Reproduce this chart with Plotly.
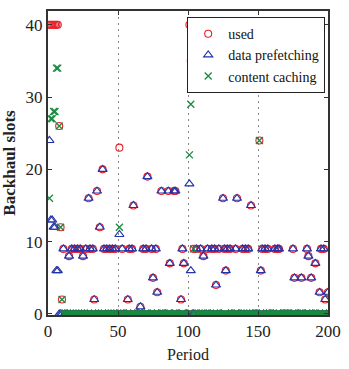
import plotly.graph_objects as go

periods = list(range(1, 201))

prefetch_t = [1, 2, 3, 4, 5, 6, 7, 11, 15, 17, 19, 21, 23, 25, 27, 29, 30, 32, 33, 35, 37, 39, 40, 42, 44, 46, 48,
              51, 53, 57, 58, 60, 61, 66, 68, 70, 71, 74, 75, 77, 78, 81, 86, 87, 90, 91, 95, 96, 97,
              101, 102, 106, 109, 111, 114, 117, 119, 120, 122, 125, 126, 127, 128, 130, 134, 135, 139, 141, 143, 145,
              152, 153, 155, 157, 162, 164, 165, 175, 176, 181, 185, 186, 188, 191, 194, 195, 197, 198, 200]
prefetch_v = [24, 13, 13, 12, 12, 6, 6, 9, 8, 9, 9, 9, 9, 8, 9, 16, 9, 9, 2, 17, 12, 20, 9, 9, 9, 9, 9,
              11, 9, 2, 9, 9, 15, 1, 9, 9, 19, 9, 5, 9, 3, 17, 17, 7, 17, 17, 2, 9, 7,
              18, 6, 9, 9, 8, 9, 9, 9, 4, 9, 16, 9, 6, 9, 9, 9, 16, 9, 9, 9, 15,
              6, 9, 9, 9, 9, 9, 9, 9, 5, 5, 9, 8, 5, 7, 3, 9, 9, 2, 3]

caching_t = [1, 2, 3, 4, 5, 6, 7, 8, 9, 10, 51, 101, 102, 104, 151]
caching_v = [16, 27, 27, 28, 28, 34, 34, 26, 12, 2, 12, 22, 29, 9, 24]

used_t = [1, 2, 3, 4, 5, 6, 7, 8, 9, 10, 11, 15, 17, 19, 21, 23, 25, 27, 29, 30, 32, 33, 35, 37, 39, 40, 42, 44, 46, 48,
          51, 53, 57, 58, 60, 61, 66, 68, 70, 71, 74, 75, 77, 78, 81, 86, 87, 90, 91, 95, 96, 97,
          101, 102, 104, 106, 109, 111, 114, 117, 119, 120, 122, 125, 126, 127, 128, 130, 134, 135, 139, 141, 143, 145,
          151, 152, 153, 155, 157, 162, 164, 165, 175, 176, 181, 185, 186, 188, 191, 194, 195, 197, 198, 200]
used_v = [40, 40, 40, 40, 40, 40, 40, 26, 12, 2, 9, 8, 9, 9, 9, 9, 8, 9, 16, 9, 9, 2, 17, 12, 20, 9, 9, 9, 9, 9,
          23, 9, 2, 9, 9, 15, 1, 9, 9, 19, 9, 5, 9, 3, 17, 17, 7, 17, 17, 2, 9, 7,
          40, 35, 9, 9, 9, 8, 9, 9, 9, 4, 9, 16, 9, 6, 9, 9, 9, 16, 9, 9, 9, 15,
          24, 6, 9, 9, 9, 9, 9, 9, 9, 5, 5, 9, 8, 5, 7, 3, 9, 9, 2, 3]

x_ticks = [0, 50, 100, 150, 200]
y_ticks = [0, 10, 20, 30, 40]


def full(ts, vs):
    d = dict(zip(ts, vs))
    return [d.get(p, 0) for p in periods]


used = full(used_t, used_v)
prefetch = full(prefetch_t, prefetch_v)
caching = full(caching_t, caching_v)

RED = "#e8202a"
BLUE = "#2233aa"
GREEN = "#1a8a40"
FONT = "Liberation Serif"

fig = go.Figure()
fig.add_trace(go.Scatter(x=periods, y=used, mode="markers", name="used",
                         marker=dict(symbol="circle-open", size=7, color=RED, line=dict(width=1.1, color=RED))))
fig.add_trace(go.Scatter(x=periods, y=prefetch, mode="markers", name="data prefetching",
                         marker=dict(symbol="triangle-up-open", size=8, color=BLUE, line=dict(width=1.1, color=BLUE))))
fig.add_trace(go.Scatter(x=periods, y=caching, mode="markers", name="content caching",
                         marker=dict(symbol="x-thin-open", size=7, color=GREEN, line=dict(width=1.3, color=GREEN))))

axis_common = dict(showline=True, linecolor="#333333", linewidth=2, mirror="ticks", ticks="inside",
                   ticklen=4, tickwidth=1, tickcolor="#333333", zeroline=False,
                   tickfont=dict(family=FONT, size=17, color="#222222"))

fig.update_xaxes(range=[0, 200], tickvals=x_ticks, showgrid=True, gridcolor="#888888", griddash="1.5px,4.5px",
                 gridwidth=1, ticklabeloverflow="allow",
                 title=dict(text="Period", font=dict(family=FONT, size=16, color="#222222"), standoff=8),
                 **axis_common)
fig.update_yaxes(range=[-0.14, 41.9], tickvals=y_ticks, showgrid=False,
                 title=dict(text="<b>Backhaul slots</b>", font=dict(family=FONT, size=17, color="#222222"), standoff=6),
                 **axis_common)

fig.update_layout(
    width=349, height=369,
    margin=dict(l=37, r=8, t=11, b=50),
    plot_bgcolor="white", paper_bgcolor="white",
    font=dict(family=FONT, color="#222222"),
    legend=dict(x=0.99, y=0.98, xanchor="right", yanchor="top", bgcolor="white",
                bordercolor="#222222", borderwidth=1, font=dict(family=FONT, size=14, color="#111111"),
                itemwidth=30, tracegroupgap=0),
)

fig.write_html("out.html")
